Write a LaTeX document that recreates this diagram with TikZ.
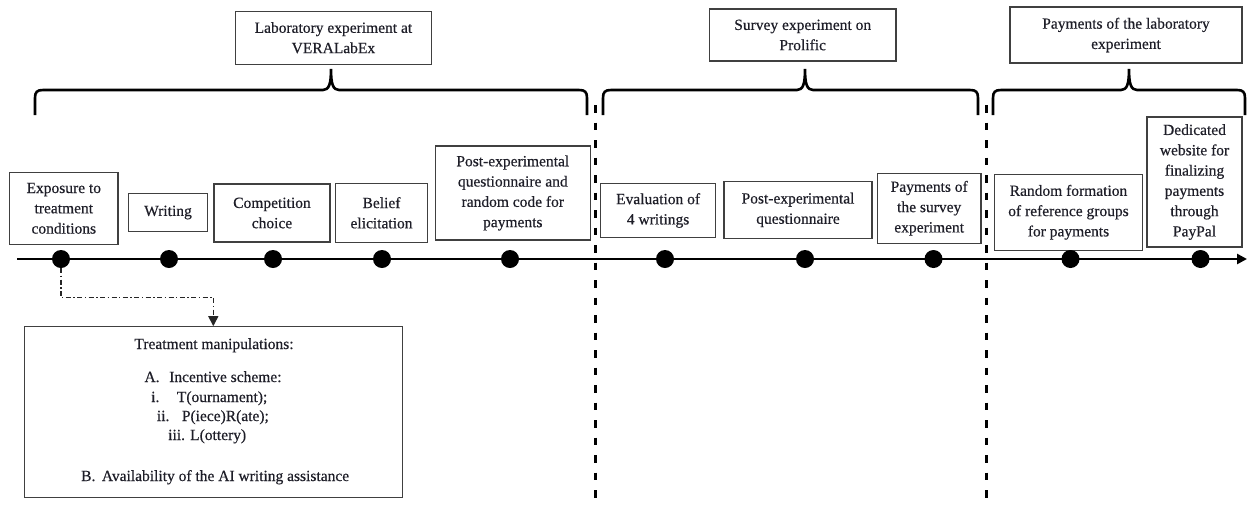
\documentclass[tikz,border=0pt]{standalone}
\usepackage{fontspec}
\setmainfont{Liberation Serif}[FakeBold=0.4]
\usetikzlibrary{arrows.meta}
\definecolor{boxline}{HTML}{404040}
\definecolor{ink}{HTML}{1E1E28}
\newcommand{\tlbrace}[3]{%
  \draw[bracestyle] (#1,115) -- (#1,98) .. controls (#1,92) and (#1+2,90) .. (#1+8,90)
    -- (#2-8,90) .. controls (#2-2,90) and (#2,84) .. (#2,69)
    .. controls (#2,84) and (#2+2,90) .. (#2+8,90)
    -- (#3-8,90) .. controls (#3-2,90) and (#3,92) .. (#3,98) -- (#3,115);}
\begin{document}
\begin{tikzpicture}[x=1pt,y=-1pt,
  every node/.style={font=\fontsize{15.5}{20.3}\selectfont, text=ink},
  box/.style={draw=boxline, line width=1.1pt, align=center, inner sep=2pt, fill=white},
  dot/.style={circle, fill=black, minimum size=18pt, inner sep=0pt},
  bracestyle/.style={line width=2.6pt, black},
  divider/.style={line width=2.5pt, black, dash pattern=on 7.5pt off 10pt},
  axis/.style={line width=2.8pt, black, -{Triangle[length=10pt,width=10pt]}},
  dashdotconn/.style={line width=1.4pt, black!85, dash pattern=on 5pt off 2.5pt on 1.4pt off 2.5pt, -{Triangle[length=10pt,width=10pt]}},
  txt/.style={inner sep=0pt}
]
\useasboundingbox (0,0) rectangle (1247,507);
\fill[white] (0,0) rectangle (1247,507);

% top boxes
\node[box, minimum width=195.3pt, minimum height=53.3pt] (lab) at (333.4,37.7) {Laboratory experiment at\\VERALabEx};
\node[box, minimum width=186.5pt, minimum height=52pt] (survey) at (802.7,35) {Survey experiment on\\Prolific};
\node[box, minimum width=232pt, minimum height=56pt] (paylab) at (1126,35) {Payments of the laboratory\\experiment};

% braces
\tlbrace{35}{331}{587}
\tlbrace{603}{805}{978}
\tlbrace{993}{1129}{1245}

% dividers
\coordinate (div1top) at (595.5,105);
\coordinate (div1bot) at (595.5,507);
\coordinate (div2top) at (986.5,105);
\coordinate (div2bot) at (986.5,507);
\draw[divider] (div1top) -- (div1bot);
\draw[divider] (div2top) -- (div2bot);

% timeline
\coordinate (tstart) at (17,259);
\coordinate (tend) at (1247,259);
\draw[axis] (tstart) -- (tend);

% step boxes
\node[box, minimum width=108.4pt, minimum height=72pt] (expo) at (63.8,208.3) {Exposure to\\treatment\\conditions};
\node[box, minimum width=79.4pt, minimum height=38.4pt] (writing) at (168,212.5) {Writing};
\node[box, minimum width=116pt, minimum height=58pt] (comp) at (272,213) {Competition\\choice};
\node[box, minimum width=92.7pt, minimum height=59pt] (belief) at (381.5,212.8) {Belief\\elicitation};
\node[box, minimum width=155.4pt, minimum height=94pt] (postlab) at (512.8,193) {Post-experimental\\questionnaire and\\random code for\\payments};
\node[box, minimum width=115.2pt, minimum height=54.4pt] (eval) at (658.1,210.5) {Evaluation of\\4 writings};
\node[box, minimum width=148pt, minimum height=57.7pt] (postsurv) at (798,209.9) {Post-experimental\\questionnaire};
\node[box, minimum width=103.5pt, minimum height=70pt] (paysurv) at (929.2,208.3) {Payments of\\the survey\\experiment};
\node[box, minimum width=147.5pt, minimum height=76pt] (random) at (1068.5,212.3) {Random formation\\of reference groups\\for payments};
\node[box, minimum width=95pt, minimum height=130pt] (dedicated) at (1194.5,182) {Dedicated\\website for\\finalizing\\payments\\through\\PayPal};

% dots
\node[dot] (d1) at (61,259) {};
\node[dot] (d2) at (169,259) {};
\node[dot] (d3) at (273,259) {};
\node[dot] (d4) at (382,259) {};
\node[dot] (d5) at (510,259) {};
\node[dot] (d6) at (665,259) {};
\node[dot] (d7) at (805,259) {};
\node[dot] (d8) at (933.5,259) {};
\node[dot] (d9) at (1070.5,259) {};
\node[dot] (d10) at (1200.5,259) {};

% treatment box
\node[box, minimum width=378.7pt, minimum height=170.6pt] (treat) at (213.4,412) {};
\node[txt, anchor=base] (th) at (214,349) {Treatment manipulations:};
\node[txt, anchor=base west] (tAl) at (144.3,382) {A.};
\node[txt, anchor=base west] (tA) at (169,382) {Incentive scheme:};
\node[txt, anchor=base west] (til) at (151,402) {i.};
\node[txt, anchor=base west] (ti) at (176.7,402) {T(ournament);};
\node[txt, anchor=base west] (tiil) at (156.7,421) {ii.};
\node[txt, anchor=base west] (tii) at (181.7,421) {P(iece)R(ate);};
\node[txt, anchor=base west] (tiiil) at (168,440) {iii.};
\node[txt, anchor=base west] (tiii) at (190,440) {L(ottery)};
\node[txt, anchor=base west] (tBl) at (81,481) {B.};
\node[txt, anchor=base west] (tB) at (101.7,481) {Availability of the AI writing assistance};

% connector
\coordinate (bend) at (213.3,297.5);
\draw[dashdotconn] (d1.south) |- (bend) -- (bend |- treat.north);
\end{tikzpicture}
\end{document}
